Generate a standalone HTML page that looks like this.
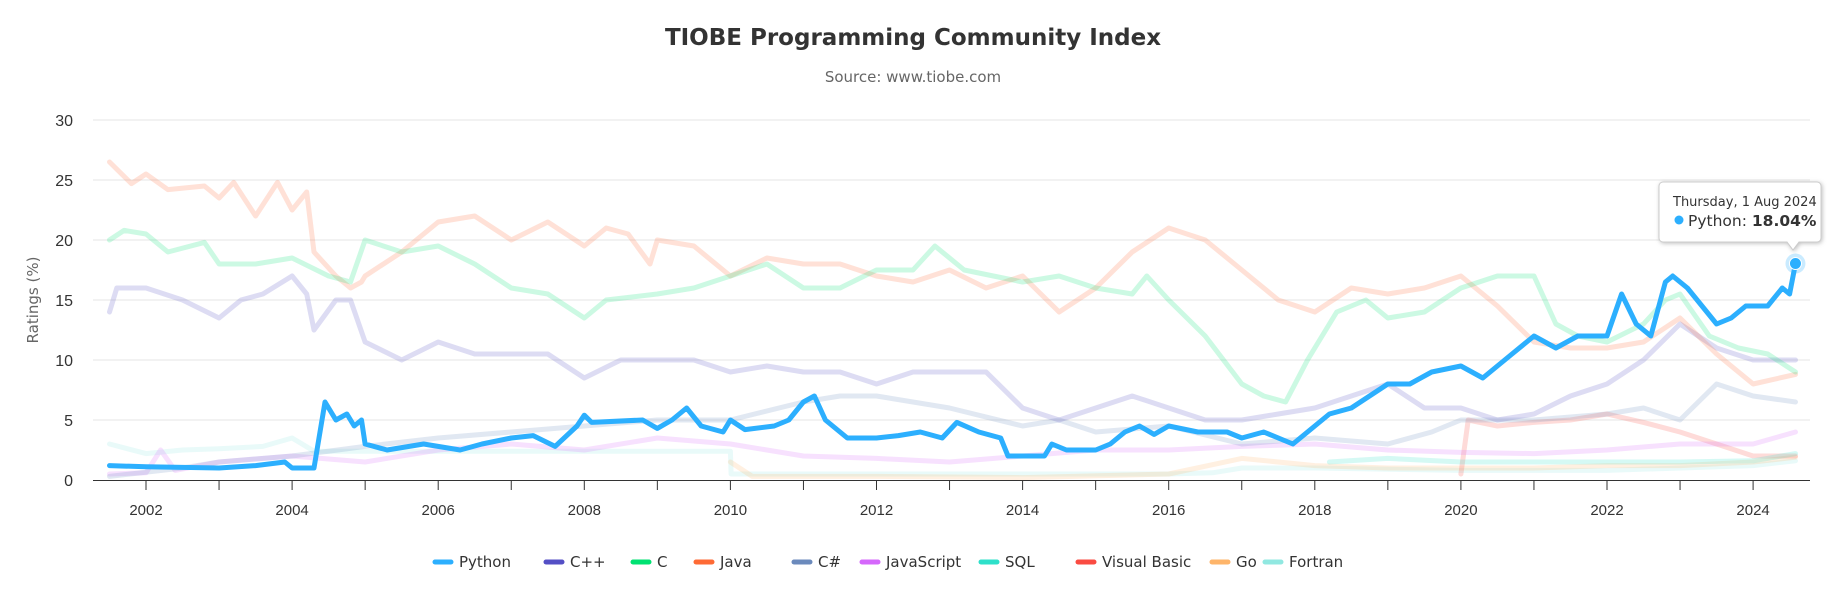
<!DOCTYPE html>
<html><head><meta charset="utf-8">
<style>
html,body{margin:0;padding:0;background:#fff;}
body{width:1827px;height:598px;overflow:hidden;font-family:"Liberation Sans","DejaVu Sans",sans-serif;}
</style></head><body>
<svg id="c" width="1827" height="598" xmlns="http://www.w3.org/2000/svg" font-family="Liberation Sans, DejaVu Sans, sans-serif">
<rect width="1827" height="598" fill="#fff"/>
<text x="913" y="45" text-anchor="middle" font-size="23" font-weight="bold" fill="#333" font-family="DejaVu Sans, sans-serif">TIOBE Programming Community Index</text>
<text x="913" y="82" text-anchor="middle" font-size="15" fill="#666" font-family="DejaVu Sans, sans-serif">Source: www.tiobe.com</text>
<g id="grid"></g>
<text transform="translate(38,300) rotate(-90)" text-anchor="middle" font-size="15" fill="#666" font-family="DejaVu Sans, sans-serif">Ratings (%)</text>
<g id="series"></g>
<g id="legend" font-family="DejaVu Sans, sans-serif"></g>
<g id="tip" font-family="DejaVu Sans, sans-serif"></g>
</svg>
<script>
var NS="http://www.w3.org/2000/svg";
function X(y){return 146+(y-2002)*73.05;}
function Y(v){return 480-v*12;}
function el(t,a,p,txt){var e=document.createElementNS(NS,t);for(var k in a)e.setAttribute(k,a[k]);if(txt!=null)e.textContent=txt;p.appendChild(e);return e;}
var g=document.getElementById('grid');
for(var v=0;v<=30;v+=5){ if(v>0) el('line',{x1:93,x2:1810,y1:Y(v),y2:Y(v),stroke:'#e6e6e6','stroke-width':1},g);
 el('text',{x:73,y:Y(v)+6,'text-anchor':'end','font-size':16,fill:'#333'},g,String(v));}
el('line',{x1:93,x2:1810,y1:480.5,y2:480.5,stroke:'#333','stroke-width':1},g);
for(var yr=2002;yr<=2024;yr++){var x=X(yr);el('line',{x1:x,x2:x,y1:480,y2:490,stroke:'#333','stroke-width':1},g);
 if(yr%2==0)el('text',{x:x,y:515,'text-anchor':'middle','font-size':15,fill:'#333'},g,String(yr));}
function P(s){var a=s.trim().split(/\s+/).map(function(q){return q.split(':').map(Number);});return a;}
var S=[
['Fortran','#91e8e1',P('2001.5:3 2002:2.2 2002.5:2.5 2003:2.6 2003.6:2.8 2004:3.5 2004.3:2.4 2006:2.4 2008:2.4 2010:2.4 2010.01:0.5 2014:0.5 2016:0.5 2016.6:0.6 2017:1 2018:1 2020:0.8 2022:0.8 2024:1.2 2024.58:1.6')],
['Go','#feb56a',P('2010:1.5 2010.3:0.3 2012:0.3 2014:0.2 2016:0.5 2017:1.8 2018:1.2 2019:1 2020:1 2021:1 2022:1.2 2023:1.2 2024:1.5 2024.58:1.9')],
['Visual Basic','#fa4b42',P('2020:0.5 2020.1:5 2020.5:4.5 2021:4.8 2021.5:5 2022:5.5 2022.5:4.8 2023:4 2023.5:3 2024:2 2024.58:2')],
['SQL','#2ee0ca',P('2018.2:1.5 2019:1.8 2020:1.5 2021:1.5 2022:1.5 2023:1.5 2024:1.6 2024.58:2.2')],
['JavaScript','#d568fb',P('2001.5:0.5 2002:0.6 2002.2:2.5 2002.4:0.8 2003:1.5 2004:2 2005:1.5 2006:2.5 2007:3 2008:2.5 2009:3.5 2010:3 2011:2 2012:1.8 2013:1.5 2014:2 2015:2.5 2016:2.5 2017:2.8 2018:3 2019:2.5 2020:2.3 2021:2.2 2022:2.5 2023:3 2024:3 2024.58:4')],
['C#','#6b8abc',P('2001.5:0.3 2002.5:1 2003:1.5 2004:2 2005:2.8 2006:3.5 2007:4 2008:4.5 2009:5 2010:5 2011:6.5 2011.5:7 2012:7 2013:6 2014:4.5 2014.5:5 2015:4 2016:4.5 2017:3 2018:3.5 2019:3 2019.6:4 2020:5 2021:5 2022:5.5 2022.5:6 2023:5 2023.5:8 2024:7 2024.58:6.5')],
['C++','#544fc5',P('2001.5:14 2001.6:16 2002:16 2002.5:15 2003:13.5 2003.3:15 2003.6:15.5 2004:17 2004.2:15.5 2004.3:12.5 2004.6:15 2004.8:15 2005:11.5 2005.5:10 2006:11.5 2006.5:10.5 2007:10.5 2007.5:10.5 2008:8.5 2008.5:10 2009:10 2009.5:10 2010:9 2010.5:9.5 2011:9 2011.5:9 2012:8 2012.5:9 2013:9 2013.5:9 2014:6 2014.5:5 2015:6 2015.5:7 2016:6 2016.5:5 2017:5 2017.5:5.5 2018:6 2018.5:7 2019:8 2019.5:6 2020:6 2020.5:5 2021:5.5 2021.5:7 2022:8 2022.5:10 2023:13 2023.5:11 2024:10 2024.58:10')],
['Java','#fe6a35',P('2001.5:26.5 2001.8:24.7 2002:25.5 2002.3:24.2 2002.8:24.5 2003:23.5 2003.2:24.8 2003.5:22 2003.8:24.8 2004:22.5 2004.2:24 2004.3:19 2004.6:17 2004.8:16 2004.95:16.5 2005:17 2005.5:19 2006:21.5 2006.5:22 2007:20 2007.5:21.5 2008:19.5 2008.3:21 2008.6:20.5 2008.9:18 2009:20 2009.5:19.5 2010:17 2010.5:18.5 2011:18 2011.5:18 2012:17 2012.5:16.5 2013:17.5 2013.5:16 2014:17 2014.5:14 2015:16 2015.5:19 2016:21 2016.5:20 2017:17.5 2017.5:15 2018:14 2018.5:16 2019:15.5 2019.5:16 2020:17 2020.5:14.5 2021:11.5 2021.5:11 2022:11 2022.5:11.5 2023:13.5 2023.5:10.5 2024:8 2024.58:8.8')],
['C','#00e272',P('2001.5:20 2001.7:20.8 2002:20.5 2002.3:19 2002.8:19.8 2003:18 2003.5:18 2004:18.5 2004.5:17 2004.8:16.5 2005:20 2005.5:19 2006:19.5 2006.5:18 2007:16 2007.5:15.5 2008:13.5 2008.3:15 2009:15.5 2009.5:16 2010:17 2010.5:18 2011:16 2011.5:16 2012:17.5 2012.5:17.5 2012.8:19.5 2013.2:17.5 2013.6:17 2014:16.5 2014.5:17 2015:16 2015.5:15.5 2015.7:17 2016:15 2016.5:12 2017:8 2017.3:7 2017.6:6.5 2017.9:10 2018.3:14 2018.7:15 2019:13.5 2019.5:14 2020:16 2020.5:17 2021:17 2021.3:13 2021.6:12 2022:11.5 2022.5:13 2022.8:15 2023:15.5 2023.4:12 2023.8:11 2024.2:10.5 2024.58:9')],
['Python','#2caffe',P('2001.5:1.2 2002:1.1 2003:1.0 2003.5:1.2 2003.9:1.5 2004.0:1.0 2004.3:1.0 2004.45:6.5 2004.6:5 2004.75:5.5 2004.85:4.5 2004.95:5 2005:3 2005.3:2.5 2005.8:3 2006.3:2.5 2006.6:3 2007:3.5 2007.3:3.7 2007.6:2.8 2007.9:4.5 2008:5.4 2008.1:4.8 2008.8:5 2009:4.3 2009.2:5 2009.4:6 2009.6:4.5 2009.9:4 2010:5 2010.2:4.2 2010.6:4.5 2010.8:5 2011:6.5 2011.15:7 2011.3:5 2011.6:3.5 2012:3.5 2012.3:3.7 2012.6:4 2012.9:3.5 2013.1:4.8 2013.4:4 2013.7:3.5 2013.8:2 2014.3:2 2014.4:3 2014.6:2.5 2015:2.5 2015.2:3 2015.4:4 2015.6:4.5 2015.8:3.8 2016:4.5 2016.4:4 2016.8:4 2017:3.5 2017.3:4 2017.7:3 2018:4.5 2018.2:5.5 2018.5:6 2019:8 2019.3:8 2019.6:9 2020:9.5 2020.3:8.5 2020.7:10.5 2021:12 2021.3:11 2021.6:12 2022:12 2022.2:15.5 2022.4:13 2022.6:12 2022.8:16.5 2022.9:17 2023.1:16 2023.3:14.5 2023.5:13 2023.7:13.5 2023.9:14.5 2024.2:14.5 2024.4:16 2024.5:15.5 2024.58:18.04')]
];
var sg=document.getElementById('series');
S.forEach(function(s){var d=s[2].map(function(p,i){return (i?'L':'M')+X(p[0]).toFixed(1)+','+Y(p[1]).toFixed(1);}).join('');
 var hl=s[0]=='Python';
 el('path',{d:d,fill:'none',stroke:s[1],'stroke-width':5,'stroke-linejoin':'round','stroke-linecap':'round',opacity:hl?1:0.2},sg);});
var lg=document.getElementById('legend');
var names=['Python','C++','C','Java','C#','JavaScript','SQL','Visual Basic','Go','Fortran'];
var cols={'Python':'#2caffe','C++':'#544fc5','C':'#00e272','Java':'#fe6a35','C#':'#6b8abc','JavaScript':'#d568fb','SQL':'#2ee0ca','Visual Basic':'#fa4b42','Go':'#feb56a','Fortran':'#91e8e1'};
var lx=[435,546,633,696,794,862,981,1078,1212,1265];
names.forEach(function(n,i){var x=lx[i];el('line',{x1:x,x2:x+16,y1:562,y2:562,stroke:cols[n],'stroke-width':5,'stroke-linecap':'round'},lg);
 el('text',{x:x+24,y:567,'font-size':15,fill:'#333'},lg,n);});
var tp=document.getElementById('tip');
var px=X(2024.58),py=Y(18.04);
el('circle',{cx:px,cy:py,r:10,fill:'#2caffe',opacity:0.25},tp);
el('circle',{cx:px,cy:py,r:6,fill:'#2caffe',stroke:'#fff','stroke-width':1},tp);
el('path',{d:'M1663,182 h154 a4,4 0 0 1 4,4 v52 a4,4 0 0 1 -4,4 h-18 l-6,8 l-6,-8 h-124 a4,4 0 0 1 -4,-4 v-52 a4,4 0 0 1 4,-4z',fill:'#fff',stroke:'#ccc','stroke-width':1,style:'filter:drop-shadow(1px 1px 2px rgba(0,0,0,0.25))'},tp);
el('text',{x:1673,y:206,'font-size':13,fill:'#333'},tp,'Thursday, 1 Aug 2024');
el('circle',{cx:1679,cy:220,r:4.5,fill:'#2caffe'},tp);
var t=el('text',{x:1688,y:226,'font-size':15.5,fill:'#333'},tp,'Python: ');
el('tspan',{'font-weight':'bold'},t,'18.04%');
</script>
</body></html>
